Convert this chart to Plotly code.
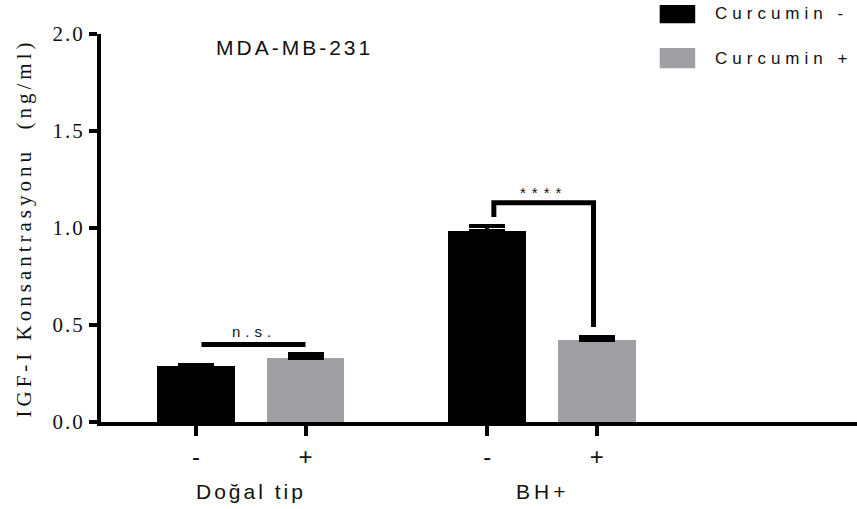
import plotly.graph_objects as go

# Bar positions (two groups, two treatments each)
groups = ["Doğal tip", "BH+"]
treatment_labels = ["-", "+", "-", "+"]
positions = [1.0, 2.0, 3.66, 4.66]

# IGF-I concentration (ng/ml), mean and SEM
curcumin_minus = [0.29, 0.985]
curcumin_plus = [0.33, 0.425]
sem_minus = [0.002, 0.025]
sem_plus = [0.018, 0.012]

# Significance brackets
ns_bracket_x = [1.05, 2.0]
ns_bracket_y = [0.40, 0.40]
star_bracket_x = [3.72, 3.72, 4.63, 4.63]
star_bracket_y = [1.057, 1.13, 1.13, 0.49]

y_ticks = [0, 0.5, 1.0, 1.5, 2.0]
y_tick_text = ["0.0", "0.5", "1.0", "1.5", "2.0"]

BLACK = "#000000"
GREY = "#a0a0a4"
TXT = "#111111"
SANS = "Liberation Sans"
SERIF = "Liberation Serif"
bar_width = 0.71


def spaced(text, px):
    """Wrap text in a span with extra letter spacing."""
    return f'<span style="letter-spacing:{px}px">{text}</span>'


fig = go.Figure()

fig.add_trace(go.Bar(
    x=[positions[0], positions[2]], y=curcumin_minus, width=bar_width,
    marker=dict(color=BLACK, line=dict(width=0)), name="Curcumin -",
    error_y=dict(type="data", symmetric=False, array=sem_minus,
                 arrayminus=[0, 0], color=BLACK, thickness=4, width=18),
))
fig.add_trace(go.Bar(
    x=[positions[1], positions[3]], y=curcumin_plus, width=bar_width,
    marker=dict(color=GREY, line=dict(width=0)), name="Curcumin +",
    error_y=dict(type="data", symmetric=False, array=sem_plus,
                 arrayminus=[0, 0], color=BLACK, thickness=4, width=18),
))

fig.add_trace(go.Scatter(x=ns_bracket_x, y=ns_bracket_y, mode="lines",
                         line=dict(color=BLACK, width=5), hoverinfo="skip"))
fig.add_trace(go.Scatter(x=star_bracket_x, y=star_bracket_y, mode="lines",
                         line=dict(color=BLACK, width=5), hoverinfo="skip"))


def note(x, y, text, size, xref="x", yref="y", xanchor="center", spacing=0):
    return dict(x=x, y=y, xref=xref, yref=yref, xanchor=xanchor,
                yanchor="middle", showarrow=False,
                text=spaced(text, spacing) if spacing else text,
                font=dict(family=SANS, size=size, color=TXT))


annotations = [
    note(sum(ns_bracket_x) / 2, 0.465, "n.s.", 15, spacing=5),
    note((star_bracket_x[1] + star_bracket_x[2]) / 2, 1.185, "****", 15, spacing=6),
    note(1.9, 0.966, "MDA-MB-231", 21, yref="paper", spacing=3),
    note((positions[0] + positions[1]) / 2, -0.18, groups[0], 21,
         yref="paper", spacing=3),
    note((positions[2] + positions[3]) / 2, -0.18, groups[1], 21,
         yref="paper", spacing=4),
    note(0.81, 1.052, "Curcumin -", 17, xref="paper", yref="paper",
         xanchor="left", spacing=5),
    note(0.81, 0.938, "Curcumin +", 17, xref="paper", yref="paper",
         xanchor="left", spacing=5),
]

shapes = [
    dict(type="rect", xref="paper", yref="paper", x0=0.739, x1=0.786,
         y0=1.028, y1=1.075, fillcolor=BLACK, line=dict(width=0)),
    dict(type="rect", xref="paper", yref="paper", x0=0.739, x1=0.786,
         y0=0.912, y1=0.964, fillcolor=GREY, line=dict(width=0)),
]

fig.update_layout(
    width=857, height=509,
    margin=dict(l=101, r=0, t=34, b=87),
    paper_bgcolor="white", plot_bgcolor="white",
    showlegend=False, bargap=0,
    annotations=annotations, shapes=shapes,
    xaxis=dict(
        range=[0.1324, 7.036], tickmode="array", tickvals=positions,
        ticktext=treatment_labels, ticks="outside", ticklen=10, tickwidth=4,
        tickcolor=BLACK, showline=True, linecolor=BLACK, linewidth=4,
        showgrid=False, zeroline=False,
        tickfont=dict(family=SANS, size=24, color=TXT),
    ),
    yaxis=dict(
        range=[0, 2.0], tickmode="array", tickvals=y_ticks,
        ticktext=[spaced(t, 2) for t in y_tick_text],
        ticks="outside", ticklen=8, tickwidth=4, tickcolor=BLACK,
        showline=True, linecolor=BLACK, linewidth=4,
        showgrid=False, zeroline=False,
        tickfont=dict(family=SERIF, size=21, color=TXT),
        title=dict(text=spaced("IGF-I Konsantrasyonu  (ng/ml)", 4), standoff=16,
                   font=dict(family=SERIF, size=21, color=TXT)),
    ),
)

fig.write_html("out.html")
